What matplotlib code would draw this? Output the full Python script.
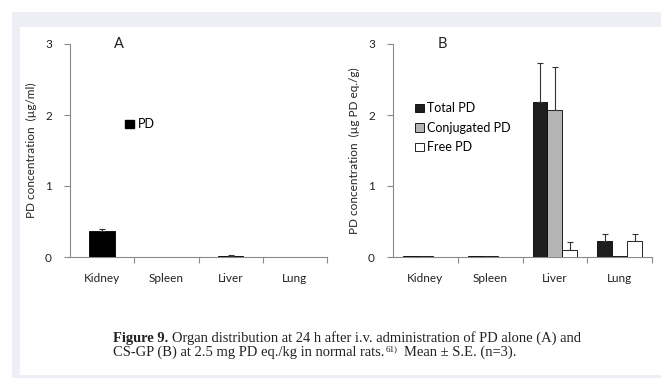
import numpy as np
import matplotlib
matplotlib.use("Agg")
import matplotlib.pyplot as plt
from matplotlib.patches import Rectangle, Patch

organs = ["Kidney", "Spleen", "Liver", "Lung"]

# panel A: PD alone
pd_alone = [0.37, 0.0, 0.02, 0.0]
pd_alone_err = [0.03, 0.0, 0.005, 0.0]

# panel B: CS-GP
series_names = ["Total PD", "Conjugated PD", "Free PD"]
total_pd = [0.01, 0.01, 2.18, 0.22]
total_pd_err = [0.0, 0.0, 0.55, 0.10]
conj_pd = [0.01, 0.01, 2.07, 0.01]
conj_pd_err = [0.0, 0.0, 0.60, 0.0]
free_pd = [0.0, 0.0, 0.10, 0.22]
free_pd_err = [0.0, 0.0, 0.11, 0.10]

y_ticks = [0, 1, 2, 3]

W, H = 661, 378
sans = "Lato"
serif = "Liberation Serif"
axis_gray = "#8a8a8a"
ink = "#222222"

fig = plt.figure(figsize=(W / 100, H / 100), dpi=100)

# frame: lavender band with white inner panel
fig.patches.append(Rectangle((12 / W, 0), 1, 1 - 12 / H, transform=fig.transFigure,
                             facecolor="#eeeef6", edgecolor="none", zorder=-2))
fig.patches.append(Rectangle((20 / W, 3 / H), 1, (H - 27 - 3) / H, transform=fig.transFigure,
                             facecolor="white", edgecolor="none", zorder=-1))


def px_axes(x0, x1, ytop, ybot):
    return fig.add_axes([x0 / W, (H - ybot) / H, (x1 - x0) / W, (ybot - ytop) / H])


def style_axes(ax, ylabel, tag):
    ax.set_facecolor("none")
    ax.set_xlim(-0.5, len(organs) - 0.5)
    ax.set_ylim(0, 3)
    for s in ["top", "right"]:
        ax.spines[s].set_visible(False)
    for s in ["left", "bottom"]:
        ax.spines[s].set_color(axis_gray)
        ax.spines[s].set_linewidth(0.8)
    ax.set_yticks(y_ticks)
    ax.set_yticklabels([str(v) for v in y_ticks], fontsize=8.5, family=sans, color=ink)
    ax.set_xticks(np.arange(len(organs)) + 0.5)
    ax.set_xticklabels([])
    ax.tick_params(axis="both", direction="out", length=4, width=0.8, color=axis_gray)
    ax.tick_params(axis="y", pad=9)
    for i, name in enumerate(organs):
        ax.annotate(name, xy=(i, 0), xycoords=("data", "axes fraction"),
                    xytext=(0, -22 * 0.72), textcoords="offset points",
                    fontsize=8.5, family=sans, color=ink, ha="center", va="center",
                    annotation_clip=False)
    ax.set_ylabel(ylabel, fontsize=8.5, family=sans, color=ink, labelpad=6)
    ax.text(0.19, 1.0, tag, transform=ax.transAxes, fontsize=10.5, family=sans,
            color=ink, ha="center", va="center")


def draw_bars(ax, xs, vals, errs, width, color):
    vals = np.asarray(vals)
    errs = np.asarray(errs)
    # no outline for empty bars
    ec = ["black" if v > 0 else "none" for v in vals]
    ax.bar(xs, vals, width=width, color=color, edgecolor=ec, linewidth=0.6, zorder=3)
    # upper error bars only, and only where there is one
    m = errs > 0
    ax.errorbar(xs[m], vals[m], yerr=[np.zeros(m.sum()), errs[m]], fmt="none",
                ecolor="#333333", elinewidth=0.8, capsize=2, capthick=0.8, zorder=4)


x = np.arange(len(organs))

# ---- panel A ----
axA = px_axes(70, 327, 44, 257)
draw_bars(axA, x, pd_alone, pd_alone_err, 0.4, "black")
style_axes(axA, "PD concentration  (\u00b5g/ml)", "A")
axA.legend(handles=[Patch(facecolor="black", edgecolor="black", label="PD")],
           loc="upper left", bbox_to_anchor=(0.19, 0.68), frameon=False,
           handlelength=0.7, handleheight=0.7, handletextpad=0.3, borderpad=0,
           prop={"family": sans, "size": 9})

# ---- panel B ----
axB = px_axes(393, 652, 44, 257)
bw = 0.23
bar_styles = [
    (total_pd, total_pd_err, "#1e1e1e"),
    (conj_pd, conj_pd_err, "#b4b4b4"),
    (free_pd, free_pd_err, "white"),
]
handles = []
for k, (vals, errs, col) in enumerate(bar_styles):
    draw_bars(axB, x + (k - 1) * bw, vals, errs, bw, col)
    handles.append(Patch(facecolor=col, edgecolor="black", linewidth=0.6, label=series_names[k]))
style_axes(axB, "PD concentration  (\u00b5g PD eq./g)", "B")
axB.legend(handles=handles, loc="upper left", bbox_to_anchor=(0.06, 0.755), frameon=False,
           handlelength=0.7, handleheight=0.7, handletextpad=0.3, borderpad=0,
           labelspacing=0.6, prop={"family": sans, "size": 9})

# ---- caption ----
renderer = fig.canvas.get_renderer()


def put(xpx, ypx, s, **kw):
    t = fig.text(xpx / W, 1 - ypx / H, s, family=serif, va="baseline", ha="left",
                 color=ink, **kw)
    bb = t.get_window_extent(renderer)
    return xpx + bb.width


cap = 10.45
xx = put(113, 342, "Figure 9.", fontsize=cap, weight="bold")
put(xx + 4, 342, "Organ distribution at 24 h after i.v. administration of PD alone (A) and", fontsize=cap)
xx = put(113, 356, "CS-GP (B) at 2.5 mg PD eq./kg in normal rats.", fontsize=cap)
xx = put(xx + 1, 351, "61)", fontsize=6.5)
put(xx + 6, 356, "Mean \u00b1 S.E. (n=3).", fontsize=cap)

fig.savefig("out.png", dpi=100)
